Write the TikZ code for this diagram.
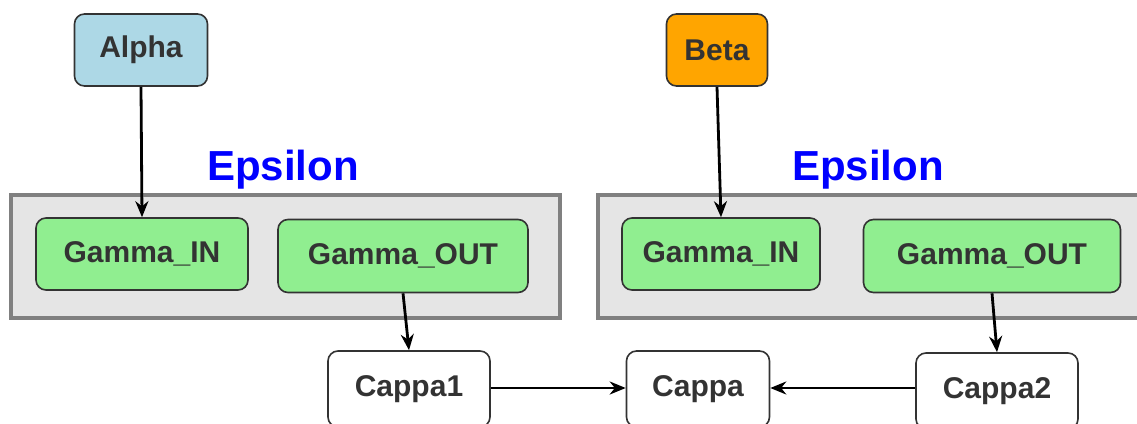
\documentclass[tikz,border=0pt]{standalone}
\usepackage{fontspec}
\setmainfont{Liberation Sans}
\usetikzlibrary{arrows.meta}
\definecolor{txt}{HTML}{333333}
\definecolor{boxbg}{HTML}{E5E5E5}
\definecolor{boxborder}{HTML}{808080}
\definecolor{lblue}{HTML}{ADD8E6}
\definecolor{orng}{HTML}{FFA500}
\definecolor{lgreen}{HTML}{90EE90}
\definecolor{eps}{HTML}{0000FF}
\tikzset{
  base/.style={draw=black!80, line width=1.6pt, rounded corners=10pt, align=center,
    font=\fontsize{30}{34}\selectfont\bfseries, text=txt, inner sep=0pt},
  gammabox/.style={base, fill=lgreen},
  cappabox/.style={base, fill=white},
  container/.style={draw=boxborder, line width=4pt, fill=boxbg, inner sep=0pt},
  epslabel/.style={font=\fontsize{42}{46}\selectfont\bfseries, text=eps, inner sep=0pt},
  conn/.style={draw=black, line width=2.8pt, -{Stealth[length=16pt,width=13pt]}}
}
\begin{document}
\begin{tikzpicture}[x=1pt,y=-1pt]
\useasboundingbox (0,0) rectangle (1137,423);
% containers
\node[container, minimum width=549pt, minimum height=123pt] (c1) at (285,256) {};
\node[container, minimum width=549pt, minimum height=123pt] (c2) at (872,256) {};
\node[epslabel] (e1) at (283,170) {Epsilon};
\node[epslabel] (e2) at (868,170) {Epsilon};
% top nodes
\node[base, fill=lblue, minimum width=133pt, minimum height=72pt] (alpha) at (141,50) {Alpha};
\node[base, fill=orng, minimum width=101pt, minimum height=72pt] (beta) at (717,50) {Beta};
% gamma nodes
\node[gammabox, minimum width=212pt, minimum height=72pt] (gin1) at (142,254) {Gamma\_IN};
\node[gammabox, minimum width=250pt, minimum height=73pt] (gout1) at (403,256) {Gamma\_OUT};
\node[gammabox, minimum width=198pt, minimum height=72pt] (gin2) at (721,254) {Gamma\_IN};
\node[gammabox, minimum width=257pt, minimum height=73pt] (gout2) at (992,256) {Gamma\_OUT};
% cappa nodes
\node[cappabox, minimum width=162pt, minimum height=76pt] (cappa1) at (409,389) {Cappa1};
\node[cappabox, minimum width=143pt, minimum height=76pt] (cappa) at (698,389) {Cappa};
\node[cappabox, minimum width=162pt, minimum height=76pt] (cappa2) at (997,391) {Cappa2};
% connectors
\draw[conn] (alpha.south) -- (gin1.north);
\draw[conn] (beta.south) -- (gin2.north);
\draw[conn] (gout1.south) -- (cappa1.north);
\draw[conn] (gout2.south) -- (cappa2.north);
\draw[conn] (cappa1.east |- 0,388) -- (cappa.west |- 0,388);
\draw[conn] (cappa2.west |- 0,388) -- (cappa.east |- 0,388);
\end{tikzpicture}
\end{document}
